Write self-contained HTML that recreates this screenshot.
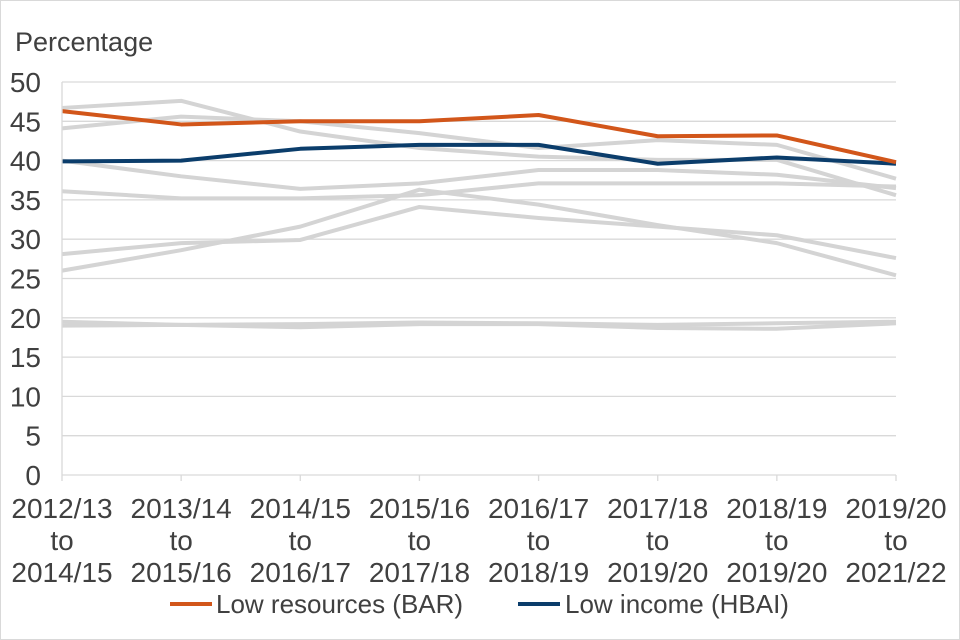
<!DOCTYPE html>
<html><head><meta charset="utf-8"><style>
body{margin:0;background:#fff}
svg{display:block;font-family:"Liberation Sans",Arial,sans-serif}
</style></head><body>
<svg id="c" width="960" height="640">
<rect x="0.5" y="0.5" width="959" height="639" fill="#fff" stroke="#d9d9d9"/>
<text x="15" y="51" font-size="27" fill="#404040">Percentage</text>
<g id="grid"></g><g id="grey"></g><g id="main"></g><g id="axes"></g>
<g>
<line x1="170" y1="604" x2="212" y2="604" stroke="#d2561a" stroke-width="4"/>
<text x="216" y="613" font-size="26" fill="#404040">Low resources (BAR)</text>
<line x1="518" y1="604" x2="560" y2="604" stroke="#0b3d6b" stroke-width="4"/>
<text x="565" y="613" font-size="26" fill="#404040">Low income (HBAI)</text>
</g>
</svg>
<script>
const categories=[["2012/13","to","2014/15"],["2013/14","to","2015/16"],["2014/15","to","2016/17"],["2015/16","to","2017/18"],["2016/17","to","2018/19"],["2017/18","to","2019/20"],["2018/19","to","2019/20"],["2019/20","to","2021/22"]];
const yTicks=[0,5,10,15,20,25,30,35,40,45,50];
const lowResources=[46.3,44.6,45,45,45.8,43.1,43.2,39.8];
const lowIncome=[39.9,40,41.5,42,42,39.6,40.4,39.6];
const greyA=[46.7,47.6,43.7,41.6,40.5,40.1,40.1,35.6];
const greyB=[44.1,45.6,45,43.5,41.6,42.6,42.0,37.7];
const greyC=[40,38.0,36.4,37.1,38.8,38.8,38.2,36.5];
const greyD=[36.1,35.2,35.2,35.6,37.1,37.1,37.1,36.7];
const greyE=[26.0,28.6,31.6,36.3,34.4,31.8,29.5,25.4];
const greyF=[28.1,29.5,29.9,34.1,32.7,31.6,30.5,27.6];
const greyG=[19.5,19.1,19.2,19.4,19.3,19.1,19.3,19.5];
const greyH=[19.0,19.1,18.8,19.2,19.2,18.7,18.6,19.3];
const greySeries=[greyA,greyB,greyC,greyD,greyE,greyF,greyG,greyH];
const NS="http://www.w3.org/2000/svg";
const x0=62,x1=896,y0=475,y1=82;
const xs=i=>x0+i*(x1-x0)/(categories.length-1);
const ys=v=>y0-(v-0)*(y0-y1)/50;
function mk(t,a,p){const e=document.createElementNS(NS,t);for(const k in a)e.setAttribute(k,a[k]);p.appendChild(e);return e;}
const grid=document.getElementById('grid'),axes=document.getElementById('axes');
yTicks.forEach(v=>{
 if(v>0){const l=mk('line',{x1:x0,x2:x1,y1:ys(v),y2:ys(v),stroke:'#d9d9d9','stroke-width':1.3},grid);
 
 }
 const t=mk('text',{x:41,y:ys(v)+10,'font-size':28,'text-anchor':'end',fill:'#404040'},axes);t.textContent=v;
 
 
});
const ax=mk('line',{x1:x0,x2:x1,y1:y0,y2:y0,stroke:'#d9d9d9','stroke-width':1.3},axes);


const ay=mk('line',{x1:x0,x2:x0,y1:y1,y2:y0,stroke:'#d9d9d9','stroke-width':1.3},axes);


categories.forEach((c,i)=>{
 const tk=mk('line',{x1:xs(i),x2:xs(i),y1:y0,y2:y0+6,stroke:'#d9d9d9','stroke-width':1.3},axes);
 
 
 c.forEach((s,j)=>{const t=mk('text',{x:xs(i),y:518+j*32,'font-size':28,'text-anchor':'middle',fill:'#404040'},axes);t.textContent=s;
 
 });
});
function line(d,col,w,g,name){const p=mk('polyline',{points:d.map((v,i)=>xs(i)+','+ys(v)).join(' '),fill:'none',stroke:col,'stroke-width':w,'stroke-linejoin':'round'},g);
 
 }
const gg=document.getElementById('grey');
greySeries.forEach((d,k)=>line(d,'#d4d4d4',4,gg,'grey-series-'+k));
const mg=document.getElementById('main');
line(lowIncome,'#0b3d6b',4,mg,'low-income-hbai-line');
line(lowResources,'#d2561a',4,mg,'low-resources-bar-line');
</script>
</body></html>
